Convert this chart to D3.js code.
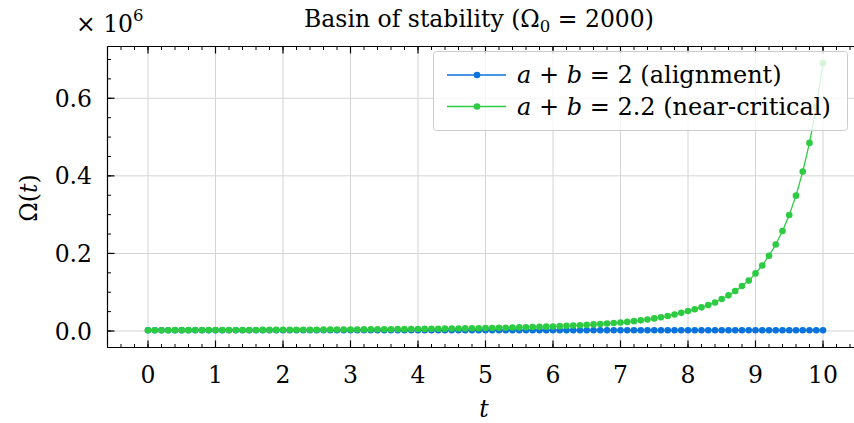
<!DOCTYPE html>
<html>
<head>
<meta charset="utf-8">
<script src="https://cdn.jsdelivr.net/npm/d3@7"></script>
<style>
  html, body { margin: 0; padding: 0; background: #fff; }
  svg { display: block; }
  text { font-family: "DejaVu Serif", serif; fill: #000; }
</style>
</head>
<body>
<svg id="chart" width="854" height="423" font-family="DejaVu Serif"></svg>
<script>
// ---- data ----
const tValues = [
  0,0.1,0.2,0.3,0.4,0.5,0.6,0.7,0.8,0.9,
  1,1.1,1.2,1.3,1.4,1.5,1.6,1.7,1.8,1.9,
  2,2.1,2.2,2.3,2.4,2.5,2.6,2.7,2.8,2.9,
  3,3.1,3.2,3.3,3.4,3.5,3.6,3.7,3.8,3.9,
  4,4.1,4.2,4.3,4.4,4.5,4.6,4.7,4.8,4.9,
  5,5.1,5.2,5.3,5.4,5.5,5.6,5.7,5.8,5.9,
  6,6.1,6.2,6.3,6.4,6.5,6.6,6.7,6.8,6.9,
  7,7.1,7.2,7.3,7.4,7.5,7.6,7.7,7.8,7.9,
  8,8.1,8.2,8.3,8.4,8.5,8.6,8.7,8.8,8.9,
  9,9.1,9.2,9.3,9.4,9.5,9.6,9.7,9.8,9.9,
  10
];
const alignmentValues = [
  2000,2000,2000,2000,2000,2000,2000,2000,2000,2000,
  2000,2000,2000,2000,2000,2000,2000,2000,2000,2000,
  2000,2000,2000,2000,2000,2000,2000,2000,2000,2000,
  2000,2000,2000,2000,2000,2000,2000,2000,2000,2000,
  2000,2000,2000,2000,2000,2000,2000,2000,2000,2000,
  2000,2000,2000,2000,2000,2000,2000,2000,2000,2000,
  2000,2000,2000,2000,2000,2000,2000,2000,2000,2000,
  2000,2000,2000,2000,2000,2000,2000,2000,2000,2000,
  2000,2000,2000,2000,2000,2000,2000,2000,2000,2000,
  2000,2000,2000,2000,2000,2000,2000,2000,2000,2000,
  2000
];
const nearCriticalValues = [
  2000,2040,2082,2124,2167,2210,2255,2301,2347,2394,
  2443,2497,2553,2610,2668,2727,2788,2850,2913,2978,
  3044,3121,3200,3281,3364,3450,3537,3626,3718,3812,
  3909,4024,4142,4264,4390,4519,4652,4789,4929,5074,
  5224,5416,5614,5820,6033,6254,6484,6721,6968,7223,
  7488,7833,8193,8570,8965,9377,9809,10261,10733,11227,
  11743,12492,13289,14137,15040,15999,17020,18106,19262,20491,
  21800,23500,25380,27470,29820,32460,35450,38830,42610,46860,
  51630,56200,61000,66800,73600,82500,92000,103000,116000,130000,
  148500,169000,194000,223000,258000,299000,349000,411000,485000,578000,
  691000
];
const seriesNames = ["alignment", "near-critical"];
const seriesSums = ["2", "2.2"];
const xTicks = [0,1,2,3,4,5,6,7,8,9,10];
const yTicks = [0, 200000, 400000, 600000];
const yTickLabels = ["0.0", "0.2", "0.4", "0.6"];

// ---- layout ----
const svg = d3.select("#chart");
const pLeft = 107.5, pRight = 863.5, pTop = 46.5, pBottom = 347.5;
const x = d3.scaleLinear().domain([-0.6, 10.6]).range([pLeft, pRight]);
const y = d3.scaleLinear().domain([-42500, 733500]).range([pBottom, pTop]);

const colors = ["#0a72dc", "#2dcb42"];
const gridColor = "#d4d4d4";

svg.append("defs").append("clipPath").attr("id", "clip")
  .append("rect").attr("x", pLeft).attr("y", pTop).attr("width", pRight - pLeft).attr("height", pBottom - pTop);

// grid
const grid = svg.append("g");
grid.selectAll("line.vx").data(xTicks).join("line")
  .attr("x1", d => x(d)).attr("x2", d => x(d)).attr("y1", pTop).attr("y2", pBottom)
  .attr("stroke", gridColor).attr("stroke-width", 1);
grid.selectAll("line.hy").data(yTicks).join("line")
  .attr("y1", d => y(d)).attr("y2", d => y(d)).attr("x1", pLeft).attr("x2", pRight)
  .attr("stroke", gridColor).attr("stroke-width", 1);

// series
const plot = svg.append("g").attr("clip-path", "url(#clip)");
const seriesData = [alignmentValues, nearCriticalValues];
const line = d3.line().x((d, i) => x(tValues[i])).y(d => y(d));
seriesData.forEach((vals, si) => {
  const g = plot.append("g");
  g.append("path").attr("d", line(vals)).attr("fill", "none")
    .attr("stroke", colors[si]).attr("stroke-width", 1.3);
  g.selectAll("circle").data(vals).join("circle")
    .attr("cx", (d, i) => x(tValues[i])).attr("cy", d => y(d)).attr("r", 3.3)
    .attr("fill", colors[si]);
});

// axes (ticks inward)
const minorX = d3.range(-3, 54).map(k => k / 5);
const minorY = d3.range(0, 15).map(k => k * 50000);

const ax = svg.append("g");
[[pLeft, pLeft, pTop, pBottom], [pLeft, pRight, pBottom, pBottom], [pLeft, pRight, pTop, pTop], [pRight, pRight, pTop, pBottom]]
  .forEach(s => ax.append("line").attr("x1", s[0]).attr("x2", s[1]).attr("y1", s[2]).attr("y2", s[3])
    .attr("stroke", "#000").attr("stroke-width", 1.2));

const majLen = 7, minLen = 3.5;
ax.selectAll("line.xminb").data(minorX).join("line").attr("class", "xminb")
  .attr("x1", d => x(d)).attr("x2", d => x(d)).attr("y1", pBottom).attr("y2", pBottom - minLen).attr("stroke", "#000").attr("stroke-width", 1);
ax.selectAll("line.xmint").data(minorX).join("line").attr("class", "xmint")
  .attr("x1", d => x(d)).attr("x2", d => x(d)).attr("y1", pTop).attr("y2", pTop + minLen).attr("stroke", "#000").attr("stroke-width", 1);
ax.selectAll("line.xmajb").data(xTicks).join("line").attr("class", "xmajb")
  .attr("x1", d => x(d)).attr("x2", d => x(d)).attr("y1", pBottom).attr("y2", pBottom - majLen).attr("stroke", "#000").attr("stroke-width", 1.2);
ax.selectAll("line.xmajt").data(xTicks).join("line").attr("class", "xmajt")
  .attr("x1", d => x(d)).attr("x2", d => x(d)).attr("y1", pTop).attr("y2", pTop + majLen).attr("stroke", "#000").attr("stroke-width", 1.2);
ax.selectAll("line.ymin").data(minorY).join("line").attr("class", "ymin")
  .attr("y1", d => y(d)).attr("y2", d => y(d)).attr("x1", pLeft).attr("x2", pLeft + minLen).attr("stroke", "#000").attr("stroke-width", 1);
ax.selectAll("line.ymaj").data(yTicks).join("line").attr("class", "ymaj")
  .attr("y1", d => y(d)).attr("y2", d => y(d)).attr("x1", pLeft).attr("x2", pLeft + majLen).attr("stroke", "#000").attr("stroke-width", 1.2);

// tick labels
const tickFs = 23.5, titleFs = 23.5, legendFs = 24;
ax.selectAll("text.xt").data(xTicks).join("text").attr("class", "xt")
  .attr("x", d => x(d)).attr("y", 383).attr("text-anchor", "middle")
  .attr("font-size", tickFs).text(d => d);
ax.selectAll("text.yt").data(yTicks).join("text").attr("class", "yt")
  .attr("x", 92).attr("y", d => y(d) + 8.5).attr("text-anchor", "end")
  .attr("font-size", tickFs).text((d, i) => yTickLabels[i]);

// offset text ×10^6
const off = svg.append("text").attr("x", 76).attr("y", 32).attr("font-size", tickFs);
off.append("tspan").text("× 10");
off.append("tspan").attr("font-size", 16.5).attr("dy", -11).text("6");

// title
const title = svg.append("text").attr("x", 479).attr("y", 27).attr("text-anchor", "middle").attr("font-size", titleFs);
title.append("tspan").text("Basin of stability (Ω");
title.append("tspan").attr("font-size", 16.5).attr("dy", 5).text("0");
title.append("tspan").attr("dy", -5).text(" = 2000)");

// axis labels
const yl = svg.append("text").attr("transform", "translate(37,198) rotate(-90)")
  .attr("text-anchor", "middle").attr("font-size", tickFs);
yl.append("tspan").text("Ω(");
yl.append("tspan").attr("font-style", "italic").text("t");
yl.append("tspan").text(")");
svg.append("text").attr("x", 484).attr("y", 417).attr("text-anchor", "middle")
  .attr("font-size", tickFs).attr("font-style", "italic").text("t");

// legend
const lg = svg.append("g");
lg.append("rect").attr("x", 433.5).attr("y", 51.5).attr("width", 414).attr("height", 79)
  .attr("rx", 3).attr("fill", "#fff").attr("fill-opacity", 0.8)
  .attr("stroke", "#cccccc").attr("stroke-width", 1);
seriesNames.forEach((name, i) => {
  const cy = 75 + i * 31.5;
  lg.append("line").attr("x1", 447).attr("x2", 506).attr("y1", cy).attr("y2", cy)
    .attr("stroke", colors[i]).attr("stroke-width", 1.3);
  lg.append("circle").attr("cx", 477).attr("cy", cy).attr("r", 3.3).attr("fill", colors[i]);
  const t = lg.append("text").attr("x", 517).attr("y", cy + 8).attr("font-size", legendFs);
  t.append("tspan").attr("font-style", "italic").text("a");
  t.append("tspan").text(" + ");
  t.append("tspan").attr("font-style", "italic").text("b");
  t.append("tspan").text(" = " + seriesSums[i] + " (" + name + ")");
});
</script>
</body>
</html>
